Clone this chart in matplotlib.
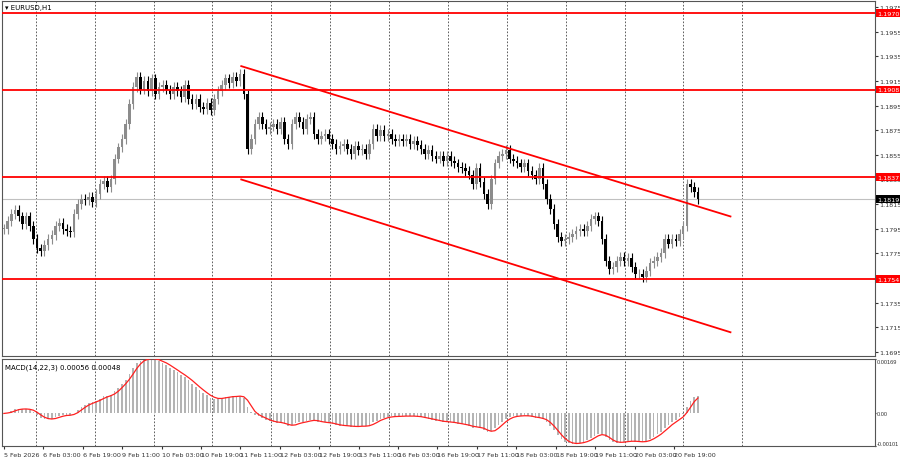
import numpy as np
import pandas as pd
import matplotlib
matplotlib.use("Agg")
import matplotlib.pyplot as plt

# hourly closes
closes = [
    1.1795, 1.1801, 1.1807, 1.1810, 1.1805, 1.1799, 1.1805, 1.1797, 1.1787, 1.1779,
    1.1777, 1.1782, 1.1787, 1.1790, 1.1797, 1.1800, 1.1795, 1.1793, 1.1792, 1.1807,
    1.1815, 1.1819, 1.1818, 1.1821, 1.1817, 1.1823, 1.1831, 1.1834, 1.1829, 1.1835,
    1.1852, 1.1861, 1.1868, 1.1880, 1.1896, 1.1910, 1.1918, 1.1908, 1.1915, 1.1907,
    1.1917, 1.1904, 1.1910, 1.1912, 1.1908, 1.1904, 1.1910, 1.1907, 1.1902, 1.1912,
    1.1900, 1.1896, 1.1900, 1.1894, 1.1892, 1.1897, 1.1891, 1.1900, 1.1907, 1.1912,
    1.1917, 1.1913, 1.1918, 1.1915, 1.1921, 1.1904, 1.1860, 1.1868, 1.1880, 1.1886,
    1.1880, 1.1876, 1.1878, 1.1880, 1.1876, 1.1882, 1.1868, 1.1864, 1.1880, 1.1886,
    1.1882, 1.1876, 1.1884, 1.1886, 1.1872, 1.1868, 1.1870, 1.1872, 1.1868, 1.1864,
    1.1860, 1.1862, 1.1864, 1.1860, 1.1856, 1.1862, 1.1859, 1.1860, 1.1856, 1.1864,
    1.1876, 1.1870, 1.1875, 1.1870, 1.1872, 1.1868, 1.1866, 1.1868, 1.1866, 1.1868,
    1.1864, 1.1866, 1.1863, 1.1860, 1.1856, 1.1859, 1.1854, 1.1852, 1.1854, 1.1850,
    1.1854, 1.1850, 1.1848, 1.1845, 1.1844, 1.1842, 1.1839, 1.1831, 1.1844, 1.1833,
    1.1823, 1.1815, 1.1835, 1.1848, 1.1854, 1.1856, 1.1859, 1.1852, 1.1850, 1.1848,
    1.1845, 1.1848, 1.1842, 1.1839, 1.1835, 1.1844, 1.1831, 1.1819, 1.1811, 1.1799,
    1.1788, 1.1785, 1.1787, 1.1788, 1.1791, 1.1793, 1.1795, 1.1793, 1.1797, 1.1803,
    1.1805, 1.1801, 1.1787, 1.1769, 1.1762, 1.1764, 1.1769, 1.1772, 1.1769, 1.1771,
    1.1764, 1.1758, 1.1758, 1.1756, 1.1761, 1.1767, 1.1769, 1.1772, 1.1775, 1.1787,
    1.1783, 1.1787, 1.1785, 1.1791, 1.1797, 1.1831, 1.1829, 1.1825, 1.1819,
]
wick = 0.0004

levels = [1.1970, 1.1908, 1.1837, 1.1754]
last_price = 1.1819

# channel lines: (bar index, price) endpoints
upper_chan = [(64.3, 1.1927), (196.8, 1.1805)]
lower_chan = [(64.3, 1.1835), (196.8, 1.1711)]

price_ticks = [1.1695, 1.1715, 1.1735, 1.1755, 1.1775, 1.1795, 1.1815, 1.1835,
               1.1855, 1.1875, 1.1895, 1.1915, 1.1935, 1.1955, 1.1975]
time_labels = ["5 Feb 2026", "6 Feb 03:00", "6 Feb 19:00", "9 Feb 11:00", "10 Feb 03:00",
               "10 Feb 19:00", "11 Feb 11:00", "12 Feb 03:00", "12 Feb 19:00",
               "13 Feb 11:00", "16 Feb 03:00", "16 Feb 19:00", "17 Feb 11:00",
               "18 Feb 03:00", "18 Feb 19:00", "19 Feb 11:00", "20 Feb 03:00",
               "20 Feb 19:00"]

W, H = 900, 460
PX = 3.7  # pixels per bar
FS = 4.6


def px_to_bar(x):
    return (x - 2) / PX


fig = plt.figure(figsize=(9, 4.6), dpi=100)
ax = fig.add_axes([2 / W, (H - 357) / H, 873 / W, 355 / H])
axm = fig.add_axes([2 / W, (H - 447) / H, 873 / W, 87 / H])

xlim = (px_to_bar(2) - 0.5, px_to_bar(875))
grid_x = [px_to_bar(34 + 59 * k) for k in range(13)]

c = np.array(closes)
o = np.concatenate([[c[0]], c[:-1]])
idx = np.arange(len(c))
hi = np.maximum(o, c) + wick
lo = np.minimum(o, c) - wick
for i in idx:
    col = "#000000" if c[i] < o[i] else "#8c8c8c"
    ax.vlines(i, lo[i], hi[i], color=col, lw=0.8, zorder=3)
    body = max(abs(c[i] - o[i]), 0.00005)
    ax.bar(i, body, bottom=min(o[i], c[i]), width=0.7, color=col, lw=0, zorder=3)

for g in grid_x:
    ax.axvline(g, color="#444444", ls=(0, (2, 2)), lw=0.6, zorder=1)
    axm.axvline(g, color="#444444", ls=(0, (2, 2)), lw=0.6, zorder=1)

for lv in levels:
    ax.axhline(lv, color="#ff0000", lw=1.3, zorder=4)
ax.axhline(last_price, color="#c0c0c0", lw=0.8, zorder=2)
for chan in (upper_chan, lower_chan):
    ax.plot([chan[0][0], chan[1][0]], [chan[0][1], chan[1][1]], color="#ff0000", lw=1.3, zorder=4)

ax.set_xlim(*xlim)
ax.set_ylim(1.1975 - 349 / 12320, 1.1975 + 6 / 12320)
ax.yaxis.tick_right()
ax.set_yticks(price_ticks)
ax.set_yticklabels([f"{t:.4f}" for t in price_ticks])
ax.tick_params(axis="y", labelsize=FS, length=2, pad=1, colors="#333333")
ax.set_xticks([])
ax.text(0.004, 0.992, "\u25be EURUSD,H1", transform=ax.transAxes, fontsize=5,
        va="top", ha="left")

for lv in levels:
    ax.text(1.003, lv, f"{lv:.4f}", transform=ax.get_yaxis_transform(), fontsize=FS,
            color="white", va="center", ha="left", zorder=6,
            bbox=dict(boxstyle="square,pad=0.2", fc="#ff0000", ec="none"))
ax.text(1.003, last_price, f"{last_price:.4f}", transform=ax.get_yaxis_transform(),
        fontsize=FS, color="white", va="center", ha="left", zorder=6,
        bbox=dict(boxstyle="square,pad=0.2", fc="#000000", ec="none"))

# MACD(14,22,3): main as histogram, SMA signal as line
s = pd.Series(closes)
macd = s.ewm(span=14, adjust=False).mean() - s.ewm(span=22, adjust=False).mean()
signal = macd.rolling(3, min_periods=1).mean()
axm.bar(idx, macd, width=0.45, color="#b4b4b4", zorder=2)
axm.plot(idx, signal, color="#ff2020", lw=0.9, zorder=3)
axm.set_xlim(*xlim)
axm.set_ylim(-0.00101, 0.00169)
axm.yaxis.tick_right()
axm.set_yticks([-0.00101, 0.0, 0.00169])
axm.set_yticklabels(["-0.00101", "0.00", "0.00169"])
axm.tick_params(axis="y", labelsize=4.1, length=1, pad=0.5, colors="#333333")
for t in axm.get_yticklabels():
    t.set_fontfamily("Liberation Sans")
axm.get_yticklabels()[0].set_va("bottom")
axm.get_yticklabels()[2].set_va("top")
axm.text(0.004, 0.95, f"MACD(14,22,3) {macd.iloc[-1]:.5f} {signal.iloc[-1]:.5f}",
         transform=axm.transAxes, fontsize=5, va="top", ha="left")

lab_x = [px_to_bar(2 + 39.5 * k) for k in range(len(time_labels))]
axm.set_xticks(lab_x)
axm.set_xticklabels(time_labels, ha="left")
axm.tick_params(axis="x", labelsize=FS, length=2, pad=2, colors="#333333")

for a in (ax, axm):
    for sp in a.spines.values():
        sp.set_color("#555555")
        sp.set_linewidth(0.8)

fig.savefig("out.png", dpi=100)
